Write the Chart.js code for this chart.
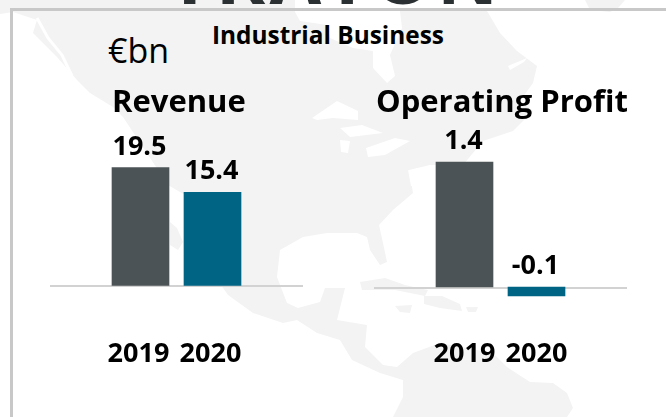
<!DOCTYPE html>
<html>
<head>
<meta charset="utf-8">
<script src="https://cdn.jsdelivr.net/npm/chart.js@4"></script>
<style>
  html, body { margin: 0; padding: 0; background: #fff; }
  #page { position: relative; width: 666px; height: 417px; overflow: hidden; font-family: "Open Sans", sans-serif; color: #000; }
  #page div, #page canvas, #page svg { position: absolute; }
  .frame-top { left: 10px; top: 8px; width: 656px; height: 3px; background: #c8c8c8; }
  .frame-left { left: 10px; top: 8px; width: 3px; height: 409px; background: #c8c8c8; }
  .txt { white-space: nowrap; }
</style>
</head>
<body>
<div id="page">
  <!-- карта на фоні -->
  <svg width="666" height="417" viewBox="0 0 666 417">
    <g fill="#f3f3f3">
      <path d="M0 0H295L295 12L300 21L327 25L330 38L353 48L373 51L373 68L387 83L395 76L390 55L402 28L400 11L480 9L487 11L500 33L517 51L537 66L533 83L520 101L533 111L513 131L483 141L463 165L430 165L409 170L413 193L393 210L379 225L383 243L387 262L380 265L370 250L367 237L357 233L327 233L303 237L280 250L277 277L287 303L298 308L320 302L325 288L345 288L337 320L367 325L365 347L383 365L397 367L413 353L440 343L493 353L507 367L530 382L553 383L567 393L573 408L567 417H393L403 397L403 380L380 373L352 360L340 340L317 333L297 320L283 323L253 313L228 295L200 255L185 195L168 185L123 117L113 107L90 93L77 80L57 57L33 33L37 20L13 12L0 14Z"/>
      <path d="M170 222L177 228L183 242L178 250L170 245Z"/>
      <path d="M360 282L385 278L405 285L428 290L425 296L395 290L362 290Z"/>
      <path d="M395 306L412 305L410 313L400 312Z"/>
      <path d="M424 296L442 296L460 304L462 311L440 308L424 304Z"/>
      <path d="M466 307L478 307L476 312L468 312Z"/>
      <path d="M585 0H625L618 8L610 12L590 10Z"/>
    </g>
    <g fill="#fff">
      <path d="M312 118L337 101L358 111L358 120L333 118L317 120Z"/>
      <path d="M340 128L362 125L383 133L350 137Z"/>
      <path d="M340 140L350 141L348 153L341 152Z"/>
      <path d="M366 148L395 138L410 141L385 155L368 157Z"/>
      <path d="M408 170L414 172L418 187L411 186Z"/>
      <path d="M508 66L527 58L524 62L510 70Z"/>
    </g>
    <path fill="none" stroke="#fff" stroke-width="3" d="M37 18L48 38L62 55L72 76"/>
    <text x="168" y="4" font-family="Open Sans" font-weight="700" font-size="75" fill="#2b3033" textLength="330">TRATON</text>
  </svg>
  <div class="frame-top"></div>
  <div class="frame-left"></div>
  <canvas id="revenueChart" width="253" height="250" style="left:50px;top:120px"></canvas>
  <canvas id="profitChart" width="253" height="250" style="left:374px;top:120px"></canvas>
  <div class="txt" style="left:108px;top:27px;font-size:34px;">€bn</div>
  <div class="txt" style="left:212px;top:18px;font-size:24.4px;font-weight:700;">Industrial Business</div>
  <div class="txt" style="left:112px;top:79px;font-size:31px;font-weight:700;">Revenue</div>
  <div class="txt" style="left:376px;top:79px;font-size:31px;font-weight:700;">Operating Profit</div>
</div>
<script>
// Дані
const years = ['2019', '2020'];
const revenue = [19.5, 15.4];
const operatingProfit = [1.4, -0.1];
const barColors = ['#4c5356', '#006484'];

// Лінія нуля, ширша за область графіка
const zeroLine = {
  id: 'zeroLine',
  beforeDatasetsDraw(chart) {
    const y = chart.scales.y.getPixelForValue(0);
    const c = chart.ctx;
    c.save();
    c.fillStyle = '#d2d2d2';
    c.fillRect(0, Math.round(y), chart.width, 2);
    c.restore();
  }
};

// Підписи значень над стовпцями
const valueLabels = {
  id: 'valueLabels',
  afterDatasetsDraw(chart) {
    const c = chart.ctx;
    const meta = chart.getDatasetMeta(0);
    c.save();
    c.font = '700 27px "Open Sans"';
    c.fillStyle = '#000';
    c.textAlign = 'center';
    c.textBaseline = 'alphabetic';
    meta.data.forEach((bar, i) => {
      const v = chart.data.datasets[0].data[i];
      c.fillText(v.toFixed(1), bar.x - 1, Math.min(bar.y, bar.base) - 13);
    });
    c.restore();
  }
};

function makeChart(id, values, yMin, yMax, tickShift) {
  const ctx = document.getElementById(id).getContext('2d');
  return new Chart(ctx, {
    type: 'bar',
    data: {
      labels: years,
      datasets: [{
        data: values,
        backgroundColor: barColors,
        barThickness: 57
      }]
    },
    options: {
      responsive: false,
      animation: false,
      layout: { padding: { left: 54.5, right: 54.5, top: 0, bottom: 0 } },
      plugins: { legend: { display: false }, tooltip: { enabled: false } },
      scales: {
        x: {
          grid: { display: false },
          border: { display: false },
          ticks: { padding: 20, labelOffset: tickShift, font: { family: '"Open Sans"', size: 27, weight: '700' }, color: '#000', maxRotation: 0 },
          afterFit(scale) { scale.height = 60; }
        },
        y: { display: false, min: yMin, max: yMax }
      }
    },
    plugins: [zeroLine, valueLabels]
  });
}

makeChart('revenueChart', revenue, -4.05, 27.35, -2);
makeChart('profitChart', operatingProfit, -0.2576, 1.87, 0);
</script>
</body>
</html>
